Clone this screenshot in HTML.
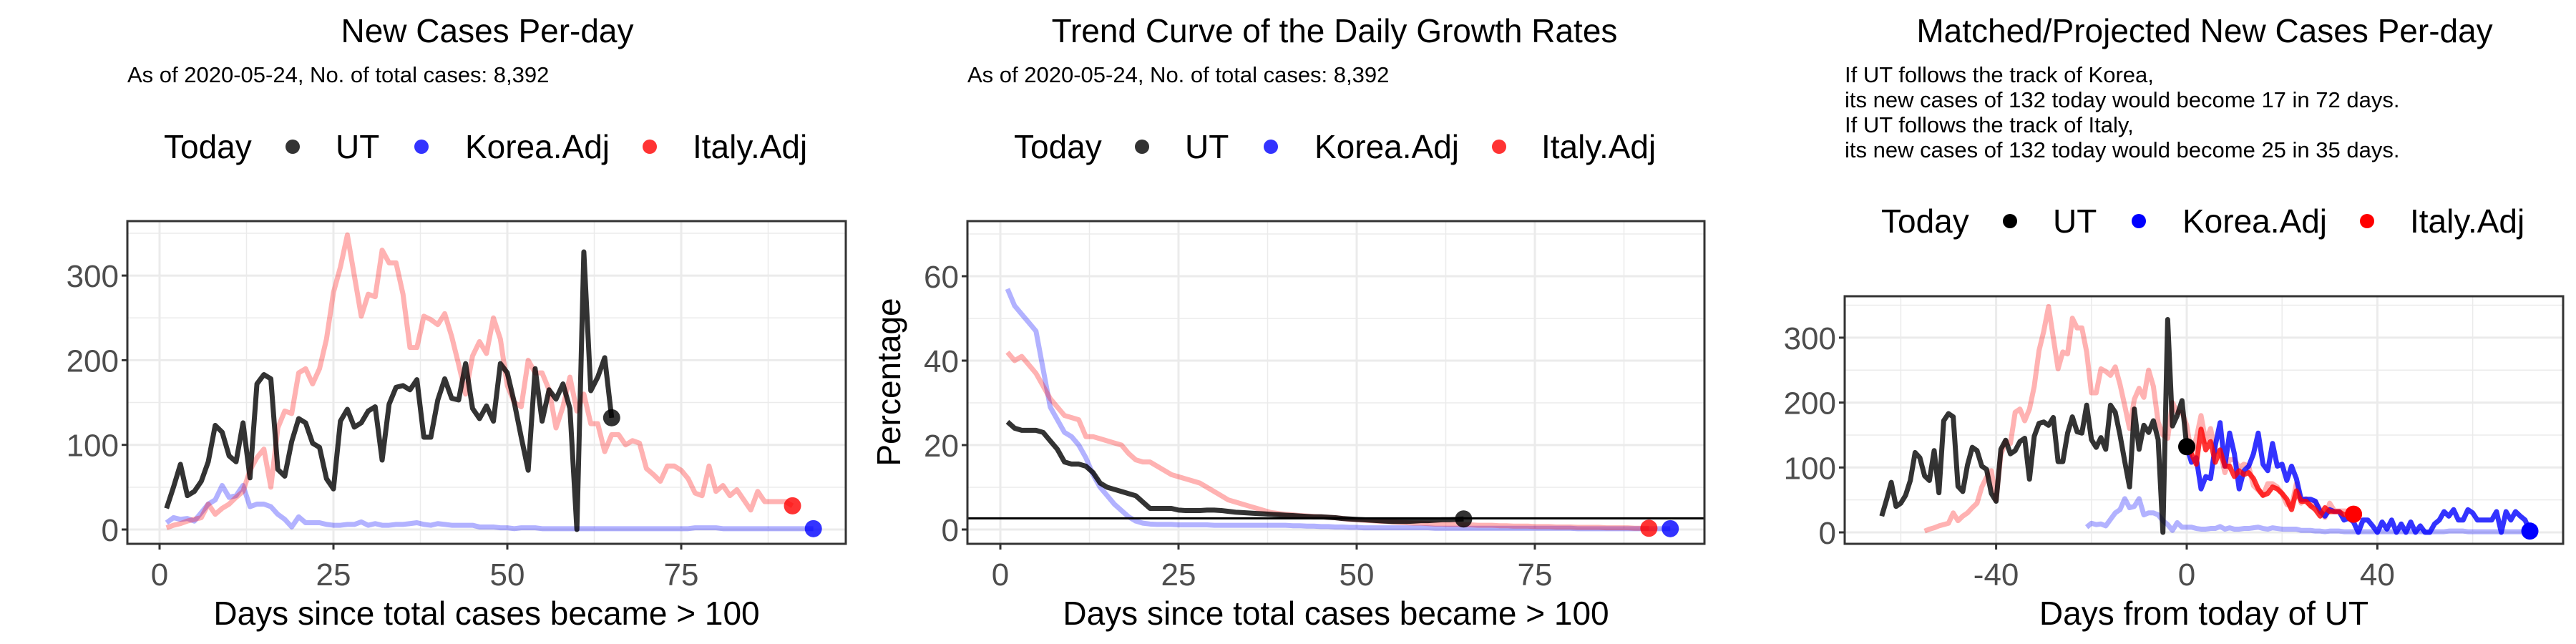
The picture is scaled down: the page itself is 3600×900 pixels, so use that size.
<!DOCTYPE html>
<html><head><meta charset="utf-8"><style>
html,body{margin:0;padding:0;background:#fff;}
svg{display:block;font-family:"Liberation Sans",Arial,sans-serif;}
</style></head><body>
<svg id="chart" width="3600" height="900" viewBox="0 0 3600 900" xmlns="http://www.w3.org/2000/svg">
<defs>
<clipPath id="c1"><rect x="178" y="309" width="1004" height="451"/></clipPath>
<clipPath id="c2"><rect x="1352" y="309" width="1030" height="451"/></clipPath>
<clipPath id="c3"><rect x="2578" y="414" width="1004" height="346"/></clipPath>
</defs>
<g id="root"></g>
</svg>
<script>
// ---- data ----
const utCases = [25,50,77,40,45,57,80,123,115,87,80,126,61,172,183,178,71,63,104,131,126,102,97,60,48,128,142,121,126,140,145,82,148,168,170,165,177,109,109,153,178,155,153,196,143,131,146,128,196,185,150,109,70,190,128,165,154,172,143,0,328,164,180,203,132];
const italyCases = [2,5,7,10,12,14,30,18,25,30,38,45,70,85,95,50,120,140,137,185,190,172,190,225,280,310,348,300,252,278,275,330,315,315,278,215,215,252,248,242,255,228,195,160,205,222,208,250,225,170,150,145,200,185,185,165,120,145,180,140,160,125,125,92,112,112,100,105,102,72,65,57,75,75,70,60,43,40,75,45,52,40,47,35,23,45,33,33,33,33,28];
const koreaCases = [8,14,12,13,10,20,30,35,52,38,40,52,27,30,30,27,18,12,3,15,8,8,8,6,5,5,6,6,9,5,7,5,5,6,6,7,8,6,5,7,6,5,5,5,5,3,3,3,2,2,1,2,2,2,1,1,1,1,1,1,1,1,1,1,1,1,1,1,1,1,1,1,1,1,1,1,2,2,2,2,1,1,1,1,1,1,1,1,1,1,1,1,1,1];
const utGrowth = [25.5,24,23.5,23.5,23.5,23,21,19,16,15.5,15.5,15,13.5,11,10,9.5,9,8.5,8,6.5,5,5,5,5,4.6,4.5,4.5,4.5,4.6,4.6,4.5,4.3,4.1,4,3.9,3.8,3.7,3.6,3.5,3.4,3.3,3.2,3.1,3,3,2.9,2.8,2.6,2.5,2.4,2.3,2.2,2.1,2,1.9,1.9,1.9,2,2.1,2.1,2.2,2.3,2.3,2.4,2.5];
const koreaGrowth = [57,53,51,49,47,38,29,26,23,22,20,17,13,10,8,6,4.5,3,2,1.5,1.3,1.2,1.2,1.2,1.1,1.1,1.1,1.1,1.1,1,1,1,1,1,1,1,1,1,1,1,0.9,0.9,0.8,0.8,0.7,0.7,0.6,0.6,0.5,0.5,0.4,0.4,0.4,0.4,0.4,0.4,0.4,0.4,0.4,0.4,0.3,0.3,0.3,0.3,0.3,0.3,0.3,0.3,0.3,0.3,0.3,0.3,0.3,0.3,0.3,0.3,0.3,0.3,0.3,0.3,0.2,0.2,0.2,0.2,0.2,0.2,0.2,0.2,0.2,0.2,0.2,0.2,0.2,0.2];
const italyGrowth = [42,40,41,39,37,34,31,29,27,26.5,26,22,22,21.5,21,20.5,20,18,16.5,16,16,15,14,13,12.5,12,11.5,11,10,9,8,7,6.5,6,5.5,5,4.5,4,3.8,3.6,3.5,3.3,3.2,3.1,3,2.9,2.8,2.6,2.4,2.3,2.2,2.1,2,1.9,1.8,1.7,1.6,1.5,1.5,1.4,1.3,1.3,1.2,1.2,1.1,1.1,1,1,1,0.9,0.9,0.8,0.8,0.8,0.7,0.7,0.7,0.6,0.6,0.6,0.5,0.5,0.5,0.5,0.4,0.4,0.4,0.4,0.3,0.3,0.3];
const koreaProjected = [132,108,115,67,86,83,134,169,102,153,121,67,95,102,121,153,105,95,137,102,105,80,102,83,51,51,51,48,32,25,35,32,32,19,22,16,0,19,19,10,0,16,5,19,0,13,0,16,0,10,0,0,13,19,32,25,35,19,19,35,30,19,19,19,19,32,0,32,19,32,25,19,2];
const italyProjected = [132,121,105,159,127,140,108,127,102,102,86,95,89,92,83,67,57,60,70,67,60,51,35,64,48,48,41,35,25,38,32,32,32,27,29,28];
const growthThreshold = 2.65;
const xTicks1 = [0,25,50,75];
const yTicks1 = [0,100,200,300];
const yTicks2 = [0,20,40,60];
const xTicks3 = [-40,0,40];
const yTicks3 = [0,100,200,300];
const utOffset = 65, italyOffset = 56, koreaOffset = 22;

const NS = "http://www.w3.org/2000/svg";
const root = document.getElementById('root');
function mk(tag, attrs, parent) {
  const e = document.createElementNS(NS, tag);
  for (const k in attrs) e.setAttribute(k, attrs[k]);
  (parent || root).appendChild(e);
  return e;
}
function txt(s, attrs, parent) { const e = mk('text', attrs, parent); e.textContent = s; return e; }

const FAINT_R = "rgba(255,0,0,0.3)", FAINT_B = "rgba(0,0,255,0.3)";
const UTC = "rgba(0,0,0,0.8)", RC = "rgba(255,0,0,0.8)", BC = "rgba(0,0,255,0.8)";

function panel(p) {
  const g = mk('g', {});
  
  
  const X = v => p.x0 + v * p.kx, Y = v => p.y0 - v * p.ky;
  const gg = mk('g', {}, g);
  
  
  p.xMinor.forEach(v => mk('line', {x1:X(v),x2:X(v),y1:p.top,y2:p.bot,stroke:'#ebebeb','stroke-width':1.5}, gg));
  p.yMinor.forEach(v => mk('line', {x1:p.left,x2:p.right,y1:Y(v),y2:Y(v),stroke:'#ebebeb','stroke-width':1.5}, gg));
  p.xTicks.forEach(v => mk('line', {x1:X(v),x2:X(v),y1:p.top,y2:p.bot,stroke:'#ebebeb','stroke-width':3}, gg));
  p.yTicks.forEach(v => mk('line', {x1:p.left,x2:p.right,y1:Y(v),y2:Y(v),stroke:'#ebebeb','stroke-width':3}, gg));
  const plot = mk('g', {'clip-path':'url(#'+p.clip+')'}, g);
  
  
  p.series.forEach(s => {
    const pts = s.data.map((v,i) => X(i + s.off) + ',' + Y(v)).join(' ');
    const l = mk('polyline', {points:pts,fill:'none',stroke:s.color,'stroke-width':7,'stroke-linejoin':'round'}, plot);
    
    
  });
  if (p.hline !== undefined) {
    const h = mk('line', {x1:p.left,x2:p.right,y1:Y(p.hline),y2:Y(p.hline),stroke:'#000','stroke-width':3}, plot);
    
    
  }
  p.dots.forEach(d => {
    const c = mk('circle', {cx:X(d.x),cy:Y(d.y),r:12,fill:d.color}, plot);
    
    
  });
  const border = mk('rect', {x:p.left,y:p.top,width:p.right-p.left,height:p.bot-p.top,fill:'none',stroke:'#333','stroke-width':3}, g);
  
  
  p.xTicks.forEach(v => {
    mk('line', {x1:X(v),x2:X(v),y1:p.bot,y2:p.bot+8,stroke:'#333','stroke-width':3}, g);
    const t = txt(String(v), {x:X(v),y:818,'font-size':44,fill:'#4d4d4d','text-anchor':'middle'}, g);
    
    
  });
  p.yTicks.forEach(v => {
    mk('line', {x1:p.left-8,x2:p.left,y1:Y(v),y2:Y(v),stroke:'#333','stroke-width':3}, g);
    const t = txt(String(v), {x:p.left-12,y:Y(v)+16,'font-size':44,fill:'#4d4d4d','text-anchor':'end'}, g);
    
    
  });
  const xt = txt(p.xTitle, {x:(p.left+p.right)/2,y:873,'font-size':46,fill:'#000','text-anchor':'middle'}, g);
  
  
  const tt = txt(p.title, {x:p.titleX,y:59,'font-size':46,fill:'#000','text-anchor':'middle'}, g);
  
  
  p.sub.forEach((s,i) => {
    const st = txt(s, {x:p.subX,y:115 + i*35,'font-size':31,fill:'#000'}, g);
    
    
  });
  const lg = mk('g', {}, g);
  
  
  const L = p.legend, ly = L.y;
  txt('Today', {x:L.today,y:ly+16,'font-size':46,fill:'#000'}, lg);
  [['UT',L.c[0],L.utx],['Korea.Adj',L.c[1],L.kx],['Italy.Adj',L.c[2],L.ix]].forEach((e,i) => {
    const dot = mk('circle', {cx:L.dots[i],cy:ly,r:10,fill:e[1]}, lg);
    
    
    const t = txt(e[0], {x:e[2],y:ly+16,'font-size':46,fill:'#000'}, lg);
    
    
  });
  return {X, Y};
}

panel({name:'new-cases-panel', clip:'c1', left:178, right:1182, top:309, bot:760,
  x0:223, kx:9.72, y0:740, ky:1.183,
  xTicks:xTicks1, yTicks:yTicks1, xMinor:[12.5,37.5,62.5,87.5], yMinor:[50,150,250,350],
  series:[{name:'korea-line',data:koreaCases,off:1,color:FAINT_B},{name:'italy-line',data:italyCases,off:1,color:FAINT_R},{name:'ut-line',data:utCases,off:1,color:UTC}],
  dots:[{name:'ut-today-point',x:utCases.length,y:utCases[utCases.length-1],color:UTC},{name:'italy-today-point',x:italyCases.length,y:italyCases[italyCases.length-1],color:RC},{name:'korea-today-point',x:koreaCases.length,y:koreaCases[koreaCases.length-1],color:BC}],
  xTitle:'Days since total cases became > 100', title:'New Cases Per-day', titleX:681,
  sub:['As of 2020-05-24, No. of total cases: 8,392'], subX:178,
  legend:{y:205,today:229,dots:[409,589,908],utx:469,kx:650,ix:968,c:[UTC,BC,RC]}});

panel({name:'growth-rate-panel', clip:'c2', left:1352, right:2382, top:309, bot:760,
  x0:1398, kx:9.96, y0:740, ky:5.9,
  xTicks:xTicks1, yTicks:yTicks2, xMinor:[12.5,37.5,62.5,87.5], yMinor:[10,30,50,70],
  series:[{name:'korea-growth-line',data:koreaGrowth,off:1,color:FAINT_B},{name:'italy-growth-line',data:italyGrowth,off:1,color:FAINT_R},{name:'ut-growth-line',data:utGrowth,off:1,color:UTC}],
  hline:growthThreshold,
  dots:[{name:'ut-today-point',x:utGrowth.length,y:utGrowth[utGrowth.length-1],color:UTC},{name:'italy-today-point',x:italyGrowth.length,y:italyGrowth[italyGrowth.length-1],color:RC},{name:'korea-today-point',x:koreaGrowth.length,y:koreaGrowth[koreaGrowth.length-1],color:BC}],
  xTitle:'Days since total cases became > 100', title:'Trend Curve of the Daily Growth Rates', titleX:1865,
  sub:['As of 2020-05-24, No. of total cases: 8,392'], subX:1352,
  legend:{y:205,today:1417,dots:[1596,1776,2095],utx:1656,kx:1837,ix:2154,c:[UTC,BC,RC]}});
const yt = txt('Percentage', {x:0,y:0,'font-size':46,fill:'#000','text-anchor':'middle',transform:'translate(1258,534) rotate(-90)'});



panel({name:'projection-panel', clip:'c3', left:2578, right:3582, top:414, bot:760,
  x0:3056, kx:6.66, y0:744, ky:0.907,
  xTicks:xTicks3, yTicks:yTicks3, xMinor:[-60,-20,20,60], yMinor:[50,150,250,350],
  series:[{name:'korea-matched-line',data:koreaCases,off:1-koreaOffset,color:FAINT_B},{name:'italy-matched-line',data:italyCases,off:1-italyOffset,color:FAINT_R},{name:'ut-line',data:utCases,off:1-utOffset,color:UTC},{name:'korea-projected-line',data:koreaProjected,off:0,color:BC},{name:'italy-projected-line',data:italyProjected,off:0,color:RC}],
  dots:[{name:'ut-today-point',x:0,y:utCases[utCases.length-1],color:'#000'},{name:'italy-projected-end',x:italyProjected.length-1,y:italyProjected[italyProjected.length-1],color:'#f00'},{name:'korea-projected-end',x:koreaProjected.length-1,y:koreaProjected[koreaProjected.length-1],color:'#00f'}],
  xTitle:'Days from today of UT', title:'Matched/Projected New Cases Per-day', titleX:3081,
  sub:['If UT follows the track of Korea,','its new cases of 132 today would become 17 in 72 days.','If UT follows the track of Italy,','its new cases of 132 today would become 25 in 35 days.'], subX:2578,
  legend:{y:309,today:2629,dots:[2809,2989,3308],utx:2869,kx:3050,ix:3368,c:['#000','#00f','#f00']}});
</script>
</body></html>
